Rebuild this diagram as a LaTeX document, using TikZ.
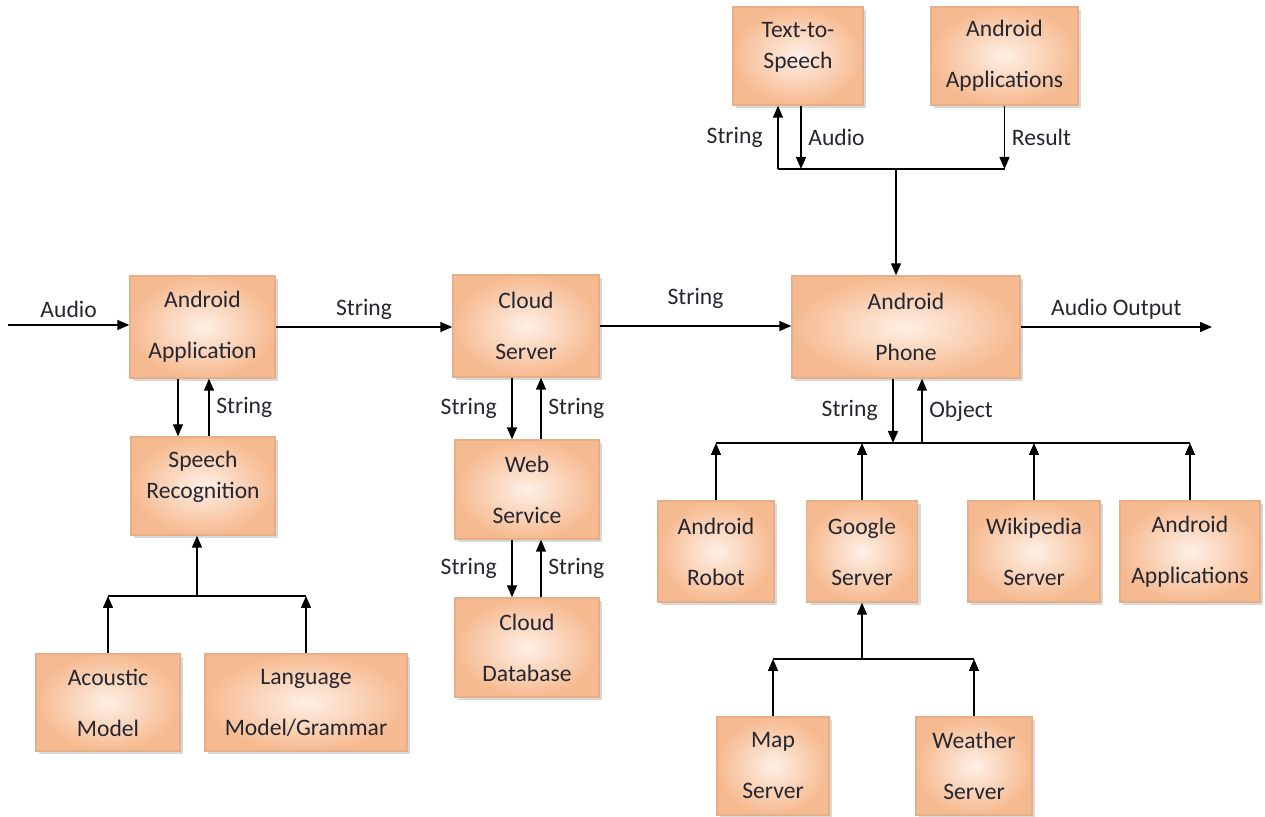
\documentclass[tikz,border=0pt]{standalone}
\usepackage{fontspec}
\setmainfont{Carlito}
\usetikzlibrary{arrows.meta,shadows}
\definecolor{boxouter}{HTML}{F6BA90}
\definecolor{boxinner}{HTML}{FEF0E6}
\definecolor{txtcol}{HTML}{262630}
\begin{document}
\begin{tikzpicture}[x=0.5pt,y=-0.5pt,
    font=\fontsize{11.8pt}{14.2pt}\selectfont,
    text=txtcol,
    line width=0.7pt,
    >={Triangle[length=6pt,width=5pt]},
    box/.style={shading=radial,inner color=boxinner,outer color=boxouter,
        draw=boxouter!85!black!40!boxouter,
        drop shadow={opacity=0.3,shadow xshift=1.6pt,shadow yshift=-1.6pt},
        align=center,inner sep=1pt}]
    \useasboundingbox (0,0) rectangle (1265,817);

    \node[box,minimum width=72.5pt,minimum height=51pt] (androidapp) at (202.5,327) {Android\\[11.3pt]Application};
    \node[box,minimum width=72pt,minimum height=49pt] (speechrec) at (203,486) {Speech\\[1.3pt]Recognition\\[-2.7pt]~};
    \node[box,minimum width=72pt,minimum height=48.5pt] (acoustic) at (108,702.5) {Acoustic\\[11.3pt]Model};
    \node[box,minimum width=101pt,minimum height=48.5pt] (langmodel) at (306,702.5) {Language\\[11.3pt]Model/Grammar};
    \node[box,minimum width=73pt,minimum height=51pt] (cloudserver) at (526,326) {Cloud\\[11.3pt]Server};
    \node[box,minimum width=72pt,minimum height=49.5pt] (webservice) at (527,489.5) {Web\\[11.3pt]Service};
    \node[box,minimum width=72pt,minimum height=49.5pt] (clouddb) at (527,647.5) {Cloud\\[11.3pt]Database};
    \node[box,minimum width=65pt,minimum height=49pt] (tts) at (798,56) {Text-to-\\[1.3pt]Speech\\[-3.7pt]~};
    \node[box,minimum width=73.5pt,minimum height=49pt] (topapps) at (1004.5,56) {Android\\[11.3pt]Applications};
    \node[box,minimum width=114pt,minimum height=51pt] (phone) at (906,327) {Android\\[11.3pt]Phone};
    \node[box,minimum width=58pt,minimum height=50.5pt] (robot) at (716,551.5) {Android\\[11.3pt]Robot};
    \node[box,minimum width=55.5pt,minimum height=50.5pt] (google) at (862,551.5) {Google\\[11.3pt]Server};
    \node[box,minimum width=66pt,minimum height=50.5pt] (wiki) at (1034,551.5) {Wikipedia\\[11.3pt]Server};
    \node[box,minimum width=70pt,minimum height=50.5pt] (botapps) at (1190,551.5) {Android\\[11.3pt]Applications};
    \node[box,minimum width=56pt,minimum height=49pt] (mapserver) at (773,766) {Map\\[11.3pt]Server};
    \node[box,minimum width=58pt,minimum height=49pt] (weather) at (974,766) {Weather\\[11.3pt]Server};

    % main line
    \coordinate (audioin) at (8,325);
    \coordinate (audioout) at (1212,327);
    \draw[->] (audioin) to node[above] {Audio} (audioin -| androidapp.west);
    \draw[->] (androidapp.east) to node[above] {String} (androidapp.east -| cloudserver.west);
    \draw[->] (cloudserver.east) to node[above,yshift=5pt] {String} (cloudserver.east -| phone.west);
    \draw[->] (phone.east) to node[above] {Audio Output} (audioout);

    % speech recognition
    \draw[->] (178,0 |- androidapp.south) to (178,0 |- speechrec.north);
    \draw[->] (209,0 |- speechrec.north) to node[right] {String} (209,0 |- androidapp.south);
    \coordinate (srbus) at (197,596);
    \draw[->] (srbus) to (srbus |- speechrec.south);
    \draw (acoustic.north |- srbus) to (langmodel.north |- srbus);
    \draw[->] (acoustic.north) to (acoustic.north |- srbus);
    \draw[->] (langmodel.north) to (langmodel.north |- srbus);

    % cloud side
    \draw[->] (512,0 |- cloudserver.south) to node[left=4pt] {String} (512,0 |- webservice.north);
    \draw[->] (541,0 |- webservice.north) to node[right] {String} (541,0 |- cloudserver.south);
    \draw[->] (512,0 |- webservice.south) to node[left=4pt] {String} (512,0 |- clouddb.north);
    \draw[->] (541,0 |- clouddb.north) to node[right] {String} (541,0 |- webservice.south);

    % phone top
    \coordinate (topbus) at (896,169);
    \draw[->] (topbus) to (topbus |- phone.north);
    \draw (778,0 |- topbus) to (topapps.south |- topbus);
    \draw[->] (778,0 |- topbus) to node[left=4pt] {String} (778,0 |- tts.south);
    \draw[->] (801,0 |- tts.south) to node[right] {Audio} (801,0 |- topbus);
    \draw[->] (topapps.south) to node[right] {Result} (topapps.south |- topbus);

    % phone bottom
    \coordinate (phonebus) at (893,443);
    \draw[->] (893,0 |- phone.south) to node[left=4pt] {String} (phonebus);
    \draw[->] (922,0 |- phonebus) to node[right] {Object} (922,0 |- phone.south);
    \draw (robot.north |- phonebus) to (botapps.north |- phonebus);
    \draw[->] (robot.north) to (robot.north |- phonebus);
    \draw[->] (google.north) to (google.north |- phonebus);
    \draw[->] (wiki.north) to (wiki.north |- phonebus);
    \draw[->] (botapps.north) to (botapps.north |- phonebus);

    % google servers
    \coordinate (googlebus) at (862,659);
    \draw[->] (googlebus) to (googlebus |- google.south);
    \draw (mapserver.north |- googlebus) to (weather.north |- googlebus);
    \draw[->] (mapserver.north) to (mapserver.north |- googlebus);
    \draw[->] (weather.north) to (weather.north |- googlebus);
\end{tikzpicture}
\end{document}
